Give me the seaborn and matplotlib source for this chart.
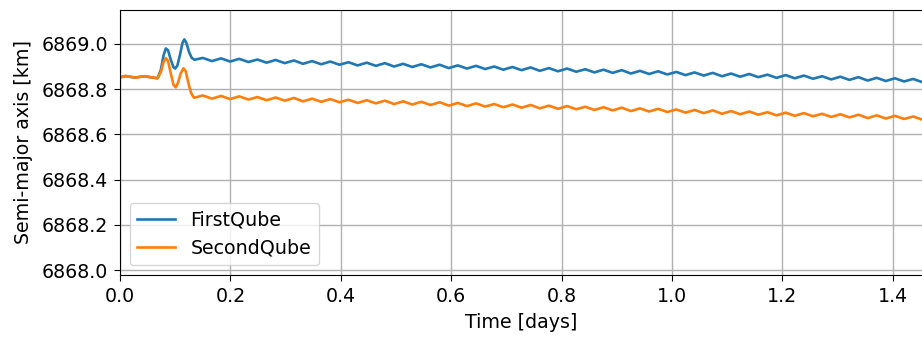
import matplotlib
matplotlib.use("Agg")
import matplotlib.pyplot as plt
import seaborn as sns
import pandas as pd

# Common arc before the separation manoeuvres (both satellites identical)
pre_t = [0.000, 0.010, 0.027, 0.044, 0.060, 0.068]
pre_a = [6868.852, 6868.858, 6868.851, 6868.857, 6868.851, 6868.848]

# Manoeuvre phase
first_man_t = [0.074, 0.079, 0.083, 0.087, 0.092, 0.097, 0.100, 0.104, 0.109,
               0.113, 0.1165, 0.120, 0.125, 0.130, 0.135]
first_man_a = [6868.885, 6868.950, 6868.980, 6868.972, 6868.930, 6868.896,
               6868.891, 6868.905, 6868.955, 6869.003, 6869.020, 6869.006,
               6868.965, 6868.938, 6868.930]

second_man_t = [0.074, 0.079, 0.083, 0.087, 0.092, 0.097, 0.101, 0.105, 0.110,
                0.115, 0.119, 0.124, 0.129, 0.134]
second_man_a = [6868.875, 6868.920, 6868.937, 6868.925, 6868.870, 6868.818,
                6868.808, 6868.828, 6868.870, 6868.892, 6868.880, 6868.825,
                6868.782, 6868.762]

# Drift phase: samples at the crests and troughs of the short-period wiggle
drift_t = [
    0.150, 0.1665, 0.183, 0.1995, 0.216, 0.2325, 0.249, 0.2655, 0.282, 0.2985,
    0.315, 0.3315, 0.348, 0.3645, 0.381, 0.3975, 0.414, 0.4305, 0.447, 0.4635,
    0.480, 0.4965, 0.513, 0.5295, 0.546, 0.5625, 0.579, 0.5955, 0.612, 0.6285,
    0.645, 0.6615, 0.678, 0.6945, 0.711, 0.7275, 0.744, 0.7605, 0.777, 0.7935,
    0.810, 0.8265, 0.843, 0.8595, 0.876, 0.8925, 0.909, 0.9255, 0.942, 0.9585,
    0.975, 0.9915, 1.008, 1.0245, 1.041, 1.0575, 1.074, 1.0905, 1.107, 1.1235,
    1.140, 1.1565, 1.173, 1.1895, 1.206, 1.2225, 1.239, 1.2555, 1.272, 1.2885,
    1.305, 1.3215, 1.338, 1.3545, 1.371, 1.3875, 1.404, 1.4205, 1.437, 1.4535,
]

first_drift_a = [
    6868.938, 6868.924, 6868.936, 6868.922, 6868.934, 6868.920, 6868.931, 6868.917, 6868.929, 6868.915,
    6868.927, 6868.912, 6868.924, 6868.910, 6868.922, 6868.908, 6868.919, 6868.905, 6868.917, 6868.903,
    6868.915, 6868.900, 6868.912, 6868.898, 6868.910, 6868.896, 6868.908, 6868.893, 6868.905, 6868.891,
    6868.903, 6868.889, 6868.900, 6868.886, 6868.898, 6868.884, 6868.896, 6868.881, 6868.893, 6868.879,
    6868.891, 6868.877, 6868.888, 6868.874, 6868.886, 6868.872, 6868.884, 6868.869, 6868.881, 6868.867,
    6868.879, 6868.865, 6868.876, 6868.862, 6868.874, 6868.860, 6868.872, 6868.857, 6868.869, 6868.855,
    6868.867, 6868.853, 6868.864, 6868.850, 6868.862, 6868.848, 6868.860, 6868.846, 6868.857, 6868.843,
    6868.855, 6868.841, 6868.853, 6868.838, 6868.850, 6868.836, 6868.848, 6868.834, 6868.845, 6868.831,
]

second_drift_a = [
    6868.772, 6868.758, 6868.770, 6868.756, 6868.768, 6868.754, 6868.765, 6868.751, 6868.763, 6868.749,
    6868.761, 6868.746, 6868.758, 6868.744, 6868.756, 6868.742, 6868.753, 6868.739, 6868.751, 6868.737,
    6868.749, 6868.734, 6868.746, 6868.732, 6868.744, 6868.730, 6868.742, 6868.727, 6868.739, 6868.725,
    6868.737, 6868.723, 6868.734, 6868.720, 6868.732, 6868.718, 6868.730, 6868.715, 6868.727, 6868.713,
    6868.725, 6868.711, 6868.722, 6868.708, 6868.720, 6868.706, 6868.718, 6868.703, 6868.715, 6868.701,
    6868.713, 6868.699, 6868.710, 6868.696, 6868.708, 6868.694, 6868.706, 6868.691, 6868.703, 6868.689,
    6868.701, 6868.687, 6868.698, 6868.684, 6868.696, 6868.682, 6868.694, 6868.680, 6868.691, 6868.677,
    6868.689, 6868.675, 6868.687, 6868.672, 6868.684, 6868.670, 6868.682, 6868.668, 6868.679, 6868.665,
]

sat_names = ["FirstQube", "SecondQube"]
x_ticks = [0.0, 0.2, 0.4, 0.6, 0.8, 1.0, 1.2, 1.4]
y_ticks = [6868.0, 6868.2, 6868.4, 6868.6, 6868.8, 6869.0]

first_t = pre_t + first_man_t + drift_t
first_a = pre_a + first_man_a + first_drift_a
second_t = pre_t + second_man_t + drift_t
second_a = pre_a + second_man_a + second_drift_a

df = pd.concat([
    pd.DataFrame({"t": first_t, "a": first_a, "sat": sat_names[0]}),
    pd.DataFrame({"t": second_t, "a": second_a, "sat": sat_names[1]}),
], ignore_index=True)

plt.rcParams["font.family"] = ["DejaVu Sans"]
plt.rcParams["font.size"] = 13.7
plt.rcParams["xtick.major.size"] = 4.5
plt.rcParams["ytick.major.size"] = 4.5
plt.rcParams["xtick.major.pad"] = 4
plt.rcParams["ytick.major.pad"] = 4

fig = plt.figure(figsize=(9.22, 3.40), dpi=100)
ax = fig.add_axes([120 / 922, 1 - 275 / 340, 1 - 120 / 922, 265 / 340])

sns.lineplot(data=df, x="t", y="a", hue="sat", hue_order=sat_names,
             palette=["#1f77b4", "#ff7f0e"], estimator=None, sort=False,
             linewidth=1.9, ax=ax)

ax.set_xlim(0.0, 1.453)
ax.set_ylim(6867.978, 6869.150)
ax.set_xticks(x_ticks)
ax.set_xticklabels([f"{v:.1f}" for v in x_ticks])
ax.set_yticks(y_ticks)
ax.set_yticklabels([f"{v:.1f}" for v in y_ticks])
ax.grid(True, color="#b0b0b0", linewidth=1.0)
ax.set_axisbelow(True)
ax.spines["right"].set_visible(False)
ax.set_xlabel("Time [days]", labelpad=5)
ax.set_ylabel("Semi-major axis [km]", labelpad=6)
ax.legend(loc="lower left", title=None)

fig.savefig("out.png", dpi=100)
